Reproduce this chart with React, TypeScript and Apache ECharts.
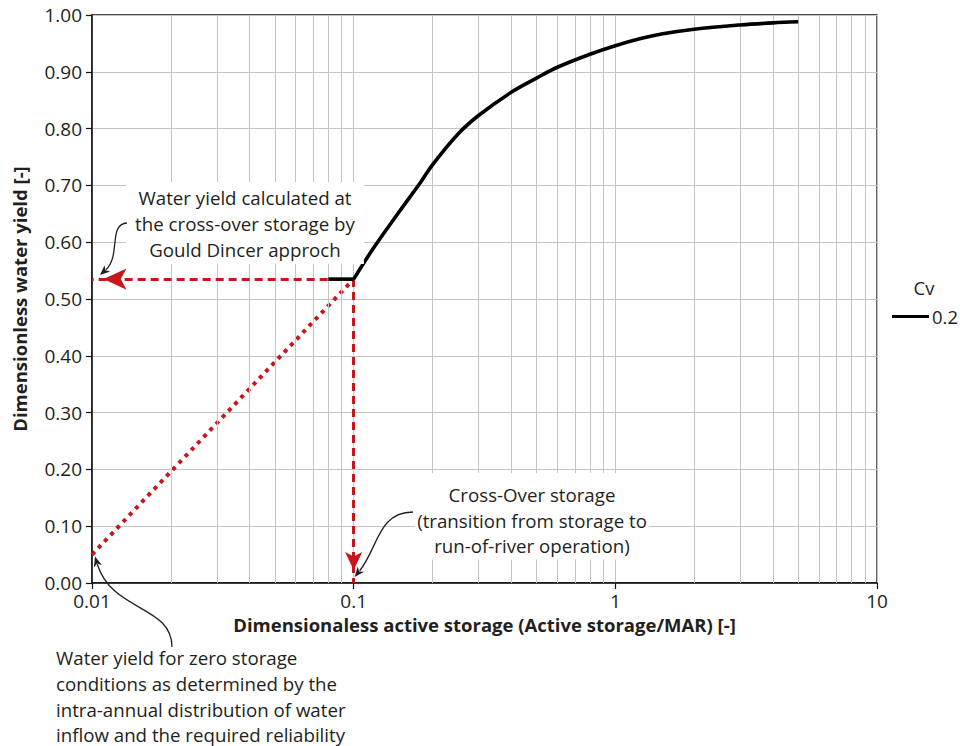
import React, { useEffect, useRef } from "react";
import * as echarts from "echarts";

// Storage–yield curve for Cv = 0.2 (dimensionless storage vs dimensionless yield)
const storage = [0.08, 0.1, 0.12, 0.15, 0.18, 0.2, 0.25, 0.3, 0.4, 0.5, 0.6, 0.8, 1, 1.25, 1.5, 2, 3, 4, 5];
const yieldCv02 = [0.535, 0.535, 0.592, 0.655, 0.705, 0.736, 0.79, 0.823, 0.864, 0.889, 0.908, 0.931, 0.946, 0.9585, 0.9665, 0.975, 0.9825, 0.9862, 0.988];

// Cross-over point and zero-storage yield
const crossOverStorage = 0.1;
const crossOverYield = 0.535;
const zeroStorage = 0.01; // left end of the log axis stands in for zero storage
const zeroStorageYield = 0.05;

// Log-axis minor gridlines (2..9 in each decade)
const minorGrid = [
  0.02, 0.03, 0.04, 0.05, 0.06, 0.07, 0.08, 0.09,
  0.2, 0.3, 0.4, 0.5, 0.6, 0.7, 0.8, 0.9,
  2, 3, 4, 5, 6, 7, 8, 9,
];

const legendTitle = "Cv";
const seriesName = "0.2";

const FONT = "'Open Sans', 'Noto Sans', sans-serif";
const RED = "#c8161d";
const INK = "#231f20";
const GRID = "#c4c4c4";

type Pt = [number, number];

function arrowHead(tip: Pt, from: Pt, len = 10, half = 4.2) {
  const dx = tip[0] - from[0];
  const dy = tip[1] - from[1];
  const d = Math.hypot(dx, dy);
  const ux = dx / d;
  const uy = dy / d;
  const px = -uy;
  const py = ux;
  const bx = tip[0] - ux * len;
  const by = tip[1] - uy * len;
  const nx = tip[0] - ux * len * 0.72;
  const ny = tip[1] - uy * len * 0.72;
  return {
    type: "polygon",
    z: 101,
    silent: true,
    shape: {
      points: [tip, [bx + px * half, by + py * half], [nx, ny], [bx - px * half, by - py * half]],
    },
    style: { fill: INK },
  };
}

function curvedArrow(start: Pt, cp1: Pt, cp2: Pt, tip: Pt) {
  const dx = tip[0] - cp2[0];
  const dy = tip[1] - cp2[1];
  const d = Math.hypot(dx, dy);
  const end: Pt = [tip[0] - (dx / d) * 8, tip[1] - (dy / d) * 8];
  return [
    {
      type: "bezierCurve",
      z: 100,
      silent: true,
      shape: {
        x1: start[0], y1: start[1],
        cpx1: cp1[0], cpy1: cp1[1],
        cpx2: cp2[0], cpy2: cp2[1],
        x2: end[0], y2: end[1],
      },
      style: { stroke: INK, lineWidth: 1.3, fill: "none" },
    },
    arrowHead(tip, cp2),
  ];
}

export default function App() {
  const ref = useRef<HTMLDivElement>(null);

  useEffect(() => {
    if (!ref.current) return;
    const chart = echarts.init(ref.current, null, { renderer: "svg" });

    const curve = storage.map((s, i) => [s, yieldCv02[i]]);
    // flat run below the cross-over, then the rising storage branch
    const flatPart = curve.slice(0, 2);
    const risingPart = curve.slice(1);

    const curveStyle = { color: "#000", width: 3.6 };

    const option: any = {
      animation: false,
      backgroundColor: "#fff",
      textStyle: { fontFamily: FONT, color: INK },
      grid: {
        left: 92,
        right: 83,
        top: 15,
        bottom: 163,
        show: true,
        borderColor: "#111",
        borderWidth: 1.3,
        backgroundColor: "transparent",
      },
      legend: {
        left: 887,
        top: 302,
        itemWidth: 37,
        itemHeight: 3,
        itemGap: 4,
        icon: "rect",
        data: [{ name: seriesName }],
        textStyle: { fontFamily: FONT, fontSize: 18.5, color: INK, padding: [0, 0, 0, -2] },
      },
      xAxis: {
        type: "log",
        logBase: 10,
        min: 0.01,
        max: 10,
        name: "Dimensionaless active storage (Active storage/MAR) [-]",
        nameLocation: "middle",
        nameGap: 29,
        nameTextStyle: { fontFamily: FONT, fontSize: 18.5, fontWeight: "bold", color: INK },
        axisLine: { show: true, lineStyle: { color: "#111", width: 1.5 } },
        axisTick: { show: true, length: 6, lineStyle: { color: "#111", width: 1.2 } },
        axisLabel: {
          margin: 8,
          fontFamily: FONT,
          fontSize: 19,
          color: INK,
          formatter: (v: number) => String(Number(v.toPrecision(2))),
        },
        splitLine: { show: true, lineStyle: { color: GRID, width: 1 } },
      },
      yAxis: {
        type: "value",
        min: 0,
        max: 1,
        interval: 0.1,
        axisLine: { show: true, lineStyle: { color: "#111", width: 1.5 } },
        axisTick: { show: true, length: 6, lineStyle: { color: "#111", width: 1.2 } },
        axisLabel: {
          margin: 10,
          fontFamily: FONT,
          fontSize: 19,
          color: INK,
          formatter: (v: number) => v.toFixed(2),
        },
        splitLine: { show: true, lineStyle: { color: GRID, width: 1 } },
      },
      series: [
        {
          name: "minor-grid",
          type: "line",
          data: [],
          z: 1,
          silent: true,
          markLine: {
            silent: true,
            symbol: ["none", "none"],
            label: { show: false },
            lineStyle: { color: GRID, width: 1, type: "solid" },
            data: minorGrid.map((x) => ({ xAxis: x })),
          },
        },
        {
          name: "zero-storage",
          type: "line",
          data: [
            [zeroStorage, zeroStorageYield],
            [crossOverStorage, crossOverYield],
          ],
          symbol: "none",
          silent: true,
          z: 4,
          lineStyle: { color: RED, width: 4, type: [4, 5] },
          markLine: {
            silent: true,
            label: { show: false },
            symbol: ["none", "arrow"],
            lineStyle: { color: RED, width: 3, type: [8, 5] },
            data: [
              [
                { coord: [crossOverStorage, crossOverYield] },
                {
                  coord: [zeroStorage, crossOverYield],
                  symbolSize: [16, 23],
                  symbolOffset: [0, 11.5],
                },
              ],
              [
                { coord: [crossOverStorage, crossOverYield] },
                {
                  coord: [crossOverStorage, 0],
                  symbolSize: [13, 18],
                  symbolOffset: [0, 13],
                },
              ],
            ],
          },
        },
        {
          name: seriesName,
          type: "line",
          data: flatPart,
          symbol: "none",
          z: 5,
          itemStyle: { color: "#000" },
          lineStyle: curveStyle,
        },
        {
          name: seriesName,
          type: "line",
          data: risingPart,
          symbol: "none",
          smooth: 0.35,
          z: 5,
          itemStyle: { color: "#000" },
          lineStyle: curveStyle,
        },
      ],
    };

    chart.setOption(option);

    const px = (x: number, y: number): Pt => chart.convertToPixel({ gridIndex: 0 }, [x, y]) as Pt;
    const a = px(zeroStorage, crossOverYield);
    const b = px(crossOverStorage, 0);
    const c = px(zeroStorage, zeroStorageYield);

    const tip1: Pt = [a[0] + 8, a[1] - 4];
    const tip2: Pt = [b[0] + 1, b[1] - 6];
    const tip3: Pt = [c[0] + 3, c[1] + 2];

    const annText = { fontFamily: FONT, fontSize: 18.7, fill: INK };

    chart.setOption({
      graphic: [
        {
          type: "text",
          z: 100,
          silent: true,
          x: 245,
          y: 182,
          style: {
            ...annText,
            text: "Water yield calculated at\nthe cross-over storage by\nGould Dincer approch",
            align: "center",
            verticalAlign: "top",
            lineHeight: 26,
            backgroundColor: "#fff",
            padding: [2, 9, 2, 9],
          },
        },
        ...curvedArrow([127, 223], [108, 224], [121, 256], tip1),
        {
          type: "text",
          z: 100,
          silent: true,
          x: 532,
          y: 473,
          style: {
            ...annText,
            text: "Cross-Over storage\n(transition from storage to\nrun-of-river operation)",
            align: "center",
            verticalAlign: "top",
            lineHeight: 25.5,
            backgroundColor: "#fff",
            padding: [9, 2, 1, 2],
          },
        },
        ...curvedArrow([413, 512], [378, 512], [378, 548], tip2),
        {
          type: "text",
          z: 100,
          silent: true,
          x: 56,
          y: 645,
          style: {
            ...annText,
            text:
              "Water yield for zero storage\nconditions as determined by the\nintra-annual distribution of water\ninflow and the required reliability",
            align: "left",
            verticalAlign: "top",
            lineHeight: 25.7,
          },
        },
        ...curvedArrow([172, 647], [172, 605], [112, 612], tip3),
        {
          type: "text",
          z: 100,
          silent: true,
          x: 19,
          y: 299,
          rotation: Math.PI / 2,
          style: {
            text: "Dimensionless water yield [-]",
            fontFamily: FONT,
            fontSize: 18.5,
            fontWeight: "bold",
            fill: INK,
            align: "center",
            verticalAlign: "middle",
          },
        },
        {
          type: "text",
          z: 100,
          silent: true,
          x: 924,
          y: 287,
          style: {
            text: legendTitle,
            fontFamily: FONT,
            fontSize: 18.5,
            fill: INK,
            align: "center",
            verticalAlign: "middle",
          },
        },
      ],
    });

    return () => chart.dispose();
  }, []);

  return (
    <div
      ref={ref}
      style={{ position: "fixed", left: 0, top: 0, width: 960, height: 746, background: "#fff" }}
    />
  );
}
